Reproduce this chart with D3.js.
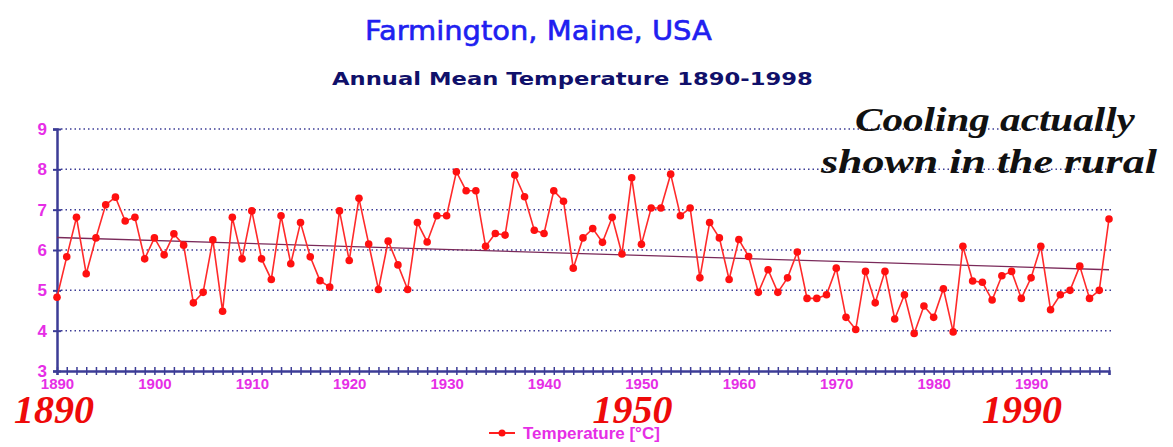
<!DOCTYPE html>
<html>
<head>
<meta charset="utf-8">
<script src="https://cdn.jsdelivr.net/npm/d3@7"></script>
<style>
  body { margin: 0; background: #ffffff; }
  svg { display: block; }
</style>
</head>
<body>
<svg width="1173" height="447"></svg>
<script>
// annual mean temperature
const years = d3.range(1890, 1999);
const temps = [
  4.83, 5.83, 6.81, 5.41, 6.30, 7.12, 7.31, 6.72, 6.81, 5.78, // 1890s
  6.30, 5.88, 6.40, 6.12, 4.69, 4.95, 6.25, 4.48, 6.81, 5.78, // 1900s
  6.97, 5.78, 5.27, 6.85, 5.66, 6.68, 5.83, 5.24, 5.08, 6.97, // 1910s
  5.74, 7.28, 6.15, 5.02, 6.22, 5.63, 5.02, 6.68, 6.20, 6.85, // 1920s
  6.85, 7.94, 7.47, 7.47, 6.09, 6.41, 6.37, 7.86, 7.32, 6.49, // 1930s
  6.41, 7.47, 7.21, 5.55, 6.30, 6.53, 6.19, 6.81, 5.90, 7.79, // 1940s
  6.14, 7.04, 7.04, 7.88, 6.85, 7.04, 5.31, 6.68, 6.30, 5.27, // 1950s
  6.26, 5.84, 4.95, 5.51, 4.95, 5.31, 5.95, 4.80, 4.80, 4.89, // 1960s
  5.55, 4.33, 4.03, 5.47, 4.69, 5.47, 4.29, 4.89, 3.93, 4.61, // 1970s
  4.33, 5.04, 3.97, 6.09, 5.23, 5.20, 4.76, 5.36, 5.47, 4.80, // 1980s
  5.31, 6.09, 4.52, 4.89, 5.00, 5.60, 4.80, 5.00, 6.77        // 1990s
];
// trend line as drawn on the original (start / end values)
const trendYears = [1890, 1998];
const trendTemps = [6.31, 5.51];
const yTicks = [3, 4, 5, 6, 7, 8, 9];
const bigYears = ["1890", "1950", "1990"];

const data = years.map((yr, i) => ({ year: yr, temp: temps[i] }));
const trend = trendYears.map((yr, i) => ({ year: yr, temp: trendTemps[i] }));

const svg = d3.select("svg");
const magenta = "#e62ee6";
const navy = "#3c3c96";

const x = d3.scaleLinear().domain([1890, 1998]).range([57, 1109]);
const y = d3.scaleLinear().domain([3, 9]).range([371, 129]);

// stretch a text horizontally so it covers a given width
function fitWidth(sel, x0, y0, w) {
  const nat = sel.node().getComputedTextLength();
  sel.attr("x", 0).attr("y", 0)
    .attr("transform", `translate(${x0},${y0}) scale(${w / nat},1)`);
}

// titles
const title = svg.append("text")
  .style("font-family", "'Comic Sans MS', 'DejaVu Sans', sans-serif")
  .style("font-size", "27px")
  .style("fill", "#2020f0")
  .style("stroke", "#2020f0")
  .style("stroke-width", 0.6)
  .text("Farmington, Maine, USA");
fitWidth(title, 365, 40, 347);

const sub = svg.append("text")
  .style("font-family", "'Comic Sans MS', 'DejaVu Sans', sans-serif")
  .style("font-size", "18px")
  .style("font-weight", "bold")
  .style("fill", "#10106a")
  .text("Annual Mean Temperature 1890-1998");
fitWidth(sub, 332, 85, 481);

// dotted grid lines
svg.append("g")
  .selectAll("line")
  .data(yTicks.filter(d => d > 3))
  .enter()
  .append("line")
  .attr("x1", x(1890) + 4).attr("x2", x(1998) + 3)
  .attr("y1", d => y(d)).attr("y2", d => y(d))
  .attr("stroke", navy)
  .attr("stroke-width", 1.5)
  .attr("stroke-dasharray", "1.5,3");

// y axis
const yAxis = svg.append("g")
  .attr("transform", `translate(${x(1890)},0)`)
  .call(d3.axisLeft(y).tickValues(yTicks).tickSize(4).tickPadding(6).tickFormat(d3.format("d")));
yAxis.select(".domain").attr("stroke", navy).attr("stroke-width", 2.5);
yAxis.selectAll(".tick line").attr("x2", -4).attr("x1", 4).attr("stroke", navy).attr("stroke-width", 2);
yAxis.selectAll(".tick text")
  .style("font-family", "Arial, 'Liberation Sans', sans-serif")
  .style("font-size", "17px").style("font-weight", "bold")
  .attr("fill", magenta);

// x axis, one tick per year, labels per decade
const xAxis = svg.append("g")
  .attr("transform", `translate(0,${y(3)})`)
  .call(d3.axisBottom(x).tickValues(years).tickSize(4).tickPadding(3)
    .tickFormat(d => (d % 10 === 0 ? d : "")));
xAxis.select(".domain").attr("stroke", navy).attr("stroke-width", 2.5);
xAxis.selectAll(".tick line").attr("y1", -4).attr("y2", 4).attr("stroke", navy).attr("stroke-width", 1.5);
xAxis.selectAll(".tick text")
  .style("font-family", "Arial, 'Liberation Sans', sans-serif")
  .style("font-size", "15px").style("font-weight", "bold")
  .attr("fill", magenta);

// trend line
svg.append("path")
  .datum(trend)
  .attr("fill", "none")
  .attr("stroke", "#7a2a5a")
  .attr("stroke-width", 1.3)
  .attr("d", d3.line().x(d => x(d.year)).y(d => y(d.temp)));

// temperature series
svg.append("path")
  .datum(data)
  .attr("fill", "none")
  .attr("stroke", "#ff2a2a")
  .attr("stroke-width", 1.6)
  .attr("d", d3.line().x(d => x(d.year)).y(d => y(d.temp)));

svg.append("g")
  .selectAll("circle")
  .data(data)
  .enter()
  .append("circle")
  .attr("cx", d => x(d.year))
  .attr("cy", d => y(d.temp))
  .attr("r", 3.8)
  .attr("fill", "#ff1010");

// big red years under the axis
svg.append("g")
  .selectAll("text")
  .data(bigYears)
  .enter()
  .append("text")
  .attr("x", d => x(+d) + (d === "1890" ? -3 : -9))
  .attr("y", 423)
  .attr("text-anchor", "middle")
  .style("font-family", "'Liberation Serif', 'Times New Roman', serif")
  .style("font-size", "40px")
  .style("font-weight", "bold")
  .style("font-style", "italic")
  .style("fill", "#ee0a0a")
  .text(d => d);

// annotation
const note = svg.append("g")
  .style("font-family", "'Liberation Serif', 'Times New Roman', serif")
  .style("font-size", "34px")
  .style("font-weight", "bold")
  .style("font-style", "italic")
  .style("fill", "#111111");
fitWidth(note.append("text").text("Cooling actually"), 855, 131, 280);
fitWidth(note.append("text").text("shown in the rural"), 821, 173, 336);

// legend
const legend = svg.append("g").attr("transform", "translate(489,433)");
legend.append("line").attr("x1", 0).attr("x2", 26)
  .attr("stroke", "#ff2020").attr("stroke-width", 2);
legend.append("circle").attr("cx", 13).attr("r", 3.5).attr("fill", "#ff1010");
legend.append("text").attr("x", 34).attr("y", 6)
  .style("font-family", "Arial, 'Liberation Sans', sans-serif")
  .style("font-size", "17px").style("font-weight", "bold")
  .style("fill", magenta)
  .text("Temperature [°C]");
</script>
</body>
</html>
